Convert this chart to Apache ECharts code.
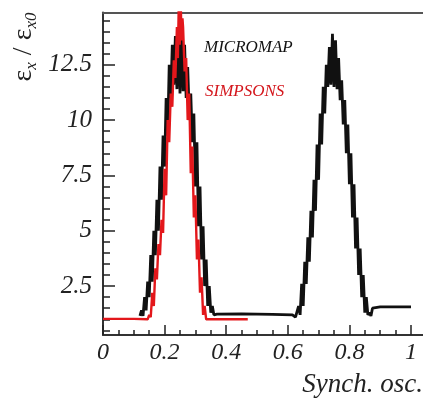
<!DOCTYPE html>
<html>
<head>
<meta charset="utf-8">
<script src="https://cdn.jsdelivr.net/npm/echarts@6/dist/echarts.min.js"></script>
<style>html,body{margin:0;padding:0;background:#fff}#c{width:423px;height:400px}</style>
</head>
<body>
<div id="c"></div>
<script>
// ---- data ----
const xTicks = [0, 0.2, 0.4, 0.6, 0.8, 1];
const xTickLabels = ['0', '0.2', '0.4', '0.6', '0.8', '1'];
const yTicks = [2.5, 5, 7.5, 10, 12.5];
const yTickLabels = ['2.5', '5', '7.5', '10', '12.5'];

const micromapX = [0.120,0.125,0.130,0.135,0.140,0.145,0.150,0.155,0.160,0.165,0.170,0.175,0.180,0.185,0.190,0.195,0.200,0.205,0.210,0.215,0.220,0.225,0.230,0.235,0.240,0.245,0.250,0.255,0.260,0.265,0.270,0.275,0.280,0.285,0.290,0.295,0.300,0.305,0.310,0.315,0.320,0.325,0.330,0.335,0.340,0.345,0.350,0.355,0.360,0.365,0.370,0.450,0.550,0.615,0.625,0.630,0.635,0.640,0.645,0.650,0.655,0.660,0.665,0.670,0.675,0.680,0.685,0.690,0.695,0.700,0.705,0.710,0.715,0.720,0.725,0.730,0.735,0.740,0.745,0.750,0.755,0.760,0.765,0.770,0.775,0.780,0.785,0.790,0.795,0.800,0.805,0.810,0.815,0.820,0.825,0.830,0.835,0.840,0.845,0.850,0.855,0.860,0.865,0.870,0.875,0.900,0.950,1.000];
const micromapY = [1.15,1.4,1.15,2.0,1.4,2.7,2.0,3.9,2.7,5.0,3.9,6.4,5.0,7.9,6.4,9.3,7.9,11.0,9.3,12.5,11.0,13.4,11.6,13.8,11.4,14.0,11.2,14.0,11.3,13.4,11.0,12.4,10.3,11.2,9.0,10.3,7.0,9.0,5.2,7.0,3.7,5.2,2.5,3.7,1.6,2.5,1.3,1.6,1.2,1.15,1.23,1.24,1.22,1.2,1.1,1.1,1.6,1.2,2.6,1.6,3.6,2.6,4.7,3.6,5.9,4.7,7.3,5.9,8.9,7.3,10.3,8.9,11.5,10.3,12.5,11.5,13.3,11.6,13.9,11.5,13.6,11.4,12.8,10.9,11.8,9.8,10.9,8.5,9.8,7.1,8.5,5.6,7.1,4.2,5.6,3.0,4.2,2.0,3.0,1.3,2.0,1.2,1.3,1.15,1.5,1.56,1.56,1.56];

const simpsonsX = [0.000,0.050,0.100,0.145,0.150,0.155,0.160,0.165,0.170,0.175,0.180,0.185,0.190,0.195,0.200,0.205,0.210,0.215,0.220,0.225,0.230,0.235,0.240,0.243,0.246,0.249,0.252,0.255,0.258,0.260,0.265,0.270,0.275,0.280,0.285,0.290,0.295,0.300,0.305,0.310,0.315,0.320,0.325,0.330,0.335,0.340,0.400,0.470];
const simpsonsY = [1.02,1.02,1.02,1.0,1.2,1.1,2.2,1.6,3.3,2.8,4.4,3.9,5.5,4.9,7.8,6.6,10.0,9.0,11.2,10.6,12.7,11.9,14.2,12.8,15.2,13.4,15.6,13.6,14.6,14.2,12.2,12.8,10.0,11.2,7.6,8.8,5.6,6.6,3.7,4.6,2.2,2.9,1.2,1.6,1.0,1.0,1.0,1.0];

// ---- chart ----
const SERIF = "'Liberation Serif', 'DejaVu Serif', serif";
const yMinorTicks = [];
for (let v = 0.5; v < 14.9; v += 0.5) {
  const r = Math.round(v * 10) / 10;
  if (yTicks.indexOf(r) < 0) yMinorTicks.push(r);
}
const xMinorTicks = [];
for (let v = 0.05; v < 1.04; v += 0.05) {
  const r = Math.round(v * 100) / 100;
  if (xTicks.indexOf(r) < 0) xMinorTicks.push(r);
}
const zip = (xs, ys) => xs.map((x, i) => [x, ys[i]]);

const X_MIN = 0, X_MAX = 1.039, Y_MIN = 0.29, Y_MAX = 14.86;
const axisColor = '#333';

const chart = echarts.init(document.getElementById('c'), null, {renderer: 'canvas'});
chart.setOption({
  animation: false,
  backgroundColor: '#fff',
  grid: {left: 103, right: 0, top: 12.5, bottom: 65},
  xAxis: [
    {
      type: 'value', min: X_MIN, max: X_MAX, position: 'bottom',
      axisLine: {show: true, lineStyle: {color: axisColor, width: 2}},
      axisTick: {show: true, inside: true, length: 10, customValues: xTicks, lineStyle: {color: '#222', width: 1.5}},
      axisLabel: {
        show: true, customValues: xTicks, margin: 6,
        formatter: v => { const i = xTicks.findIndex(t => Math.abs(t - v) < 1e-6); return i >= 0 ? xTickLabels[i] : ''; },
        fontFamily: SERIF, fontStyle: 'italic', fontSize: 24, color: '#222'
      },
      splitLine: {show: false}
    },
    {
      type: 'value', min: X_MIN, max: X_MAX, position: 'bottom',
      axisLine: {show: false},
      axisTick: {show: true, inside: true, length: 5, customValues: xMinorTicks, lineStyle: {color: '#222', width: 1.5}},
      axisLabel: {show: false}, splitLine: {show: false}
    },
    {
      type: 'value', min: X_MIN, max: X_MAX, position: 'top',
      axisLine: {show: true, lineStyle: {color: '#555', width: 2}},
      axisTick: {show: false}, axisLabel: {show: false}, splitLine: {show: false}
    }
  ],
  yAxis: [
    {
      type: 'value', min: Y_MIN, max: Y_MAX, position: 'left',
      axisLine: {show: true, lineStyle: {color: axisColor, width: 2}},
      axisTick: {show: true, inside: true, length: 12, customValues: yTicks, lineStyle: {color: '#222', width: 1.5}},
      axisLabel: {
        show: true, customValues: yTicks, margin: 11,
        formatter: v => { const i = yTicks.findIndex(t => Math.abs(t - v) < 1e-6); return i >= 0 ? yTickLabels[i] : ''; },
        fontFamily: SERIF, fontStyle: 'italic', fontSize: 25, color: '#222'
      },
      splitLine: {show: false}
    },
    {
      type: 'value', min: Y_MIN, max: Y_MAX, position: 'left',
      axisLine: {show: false},
      axisTick: {show: true, inside: true, length: 7, customValues: yMinorTicks, lineStyle: {color: '#222', width: 1.5}},
      axisLabel: {show: false}, splitLine: {show: false}
    }
  ],
  series: [
    {
      name: 'MICROMAP', type: 'line', xAxisIndex: 0, yAxisIndex: 0,
      data: zip(micromapX, micromapY),
      showSymbol: false, symbol: 'none', clip: true,
      lineStyle: {color: '#111', width: 2.8}
    },
    {
      name: 'SIMPSONS', type: 'line', xAxisIndex: 0, yAxisIndex: 0,
      data: zip(simpsonsX, simpsonsY),
      showSymbol: false, symbol: 'none', clip: true,
      lineStyle: {color: '#e3171b', width: 2.4}
    }
  ],
  graphic: [
    {
      type: 'text', x: 423, y: 385, silent: true,
      style: {text: 'Synch. osc.', fontFamily: SERIF, fontStyle: 'italic', fontSize: 27, fill: '#222', align: 'right', verticalAlign: 'middle'}
    },
    {
      type: 'text', x: 204, y: 48, silent: true,
      style: {text: 'MICROMAP', fontFamily: SERIF, fontStyle: 'italic', fontSize: 17, fill: '#111', align: 'left', verticalAlign: 'middle'}
    },
    {
      type: 'text', x: 205, y: 92, silent: true,
      style: {text: 'SIMPSONS', fontFamily: SERIF, fontStyle: 'italic', fontSize: 17, fill: '#d4161c', align: 'left', verticalAlign: 'middle'}
    },
    {
      type: 'text', x: 25, y: 47, rotation: Math.PI / 2, silent: true,
      style: {
        text: '{e|ε}{s|x}{e| / ε}{s|x0}',
        align: 'center', verticalAlign: 'middle',
        rich: {
          e: {fontFamily: SERIF, fontSize: 28, fill: '#222', lineHeight: 30, verticalAlign: 'top'},
          s: {fontFamily: SERIF, fontStyle: 'italic', fontSize: 17, fill: '#222', lineHeight: 20, verticalAlign: 'bottom'}
        }
      }
    }
  ]
});
</script>
</body>
</html>
